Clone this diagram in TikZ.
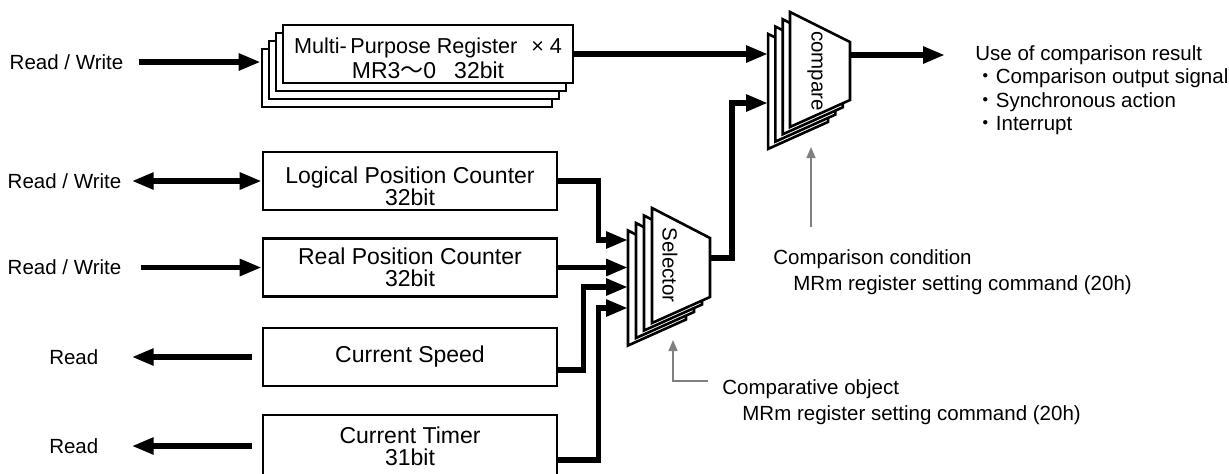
\documentclass[tikz,border=0pt]{standalone}
\usepackage{fontspec}
\setmainfont{Liberation Sans}
\newfontfamily\cjk{Noto Sans CJK JP}
\usetikzlibrary{arrows.meta,positioning}

\begin{document}
\begin{tikzpicture}[
    x=0.5pt, y=-0.5pt,
    >={Triangle[length=11pt,width=8pt]},
    bus/.style={line width=2.8pt},
    sense/.style={black!50, line width=0.7pt, -{Triangle[length=5.5pt,width=4.5pt]}},
    tag/.style={font=\fontsize{10.25}{13}\selectfont, inner sep=0pt},
    reg/.style={draw, line width=1.3pt, fill=white, inner sep=0pt,
      minimum width=147pt, minimum height=29pt, align=center,
      font=\fontsize{11.5}{11}\selectfont},
    mux/.style={draw, line width=1.3pt, fill=white, line join=miter},
  ]
  \useasboundingbox (0,0) rectangle (1229,473);

  % multi-purpose register stack
  \foreach \k in {3,2,1,0}
    \node[reg, minimum width=145pt] (mpr\k) at ({428-7*\k},{54+8*\k}) {};
  \node[tag, align=center, font=\fontsize{10.8}{12.5}\selectfont] (mprtxt) at ([yshift=-2pt]mpr0.center)
    {Multi-\,Purpose Register\hspace{7pt}× 4\\
     {\fontsize{11.5}{12.5}\selectfont MR3{\cjk 〜}0\hspace{9pt}32bit}};

  % counters
  \node[reg] (lpc) at (410,181) {};
  \node[tag, align=center, font=\fontsize{11.5}{11}\selectfont] (lpctxt) at ([yshift=-2.5pt]lpc.center)
    {Logical Position Counter\\32bit};
  \node[reg] (rpc) at (410,267.5) {Real Position Counter\\32bit};
  \node[reg] (spd) at (410,357) {Current Speed};
  \node[reg, minimum height=31pt] (tmr) at (410,446) {Current Timer\\31bit};

  % selector and compare stacks
  \foreach \k in {3,2,1,0}
    \draw[mux] ([shift={(-8*\k,7.5*\k)}]652,208) -- ++(58,30) -- ++(0,59) -- ++(-58,26) -- cycle;
  \foreach \k in {3,2,1,0}
    \draw[mux] ([shift={(-7.3*\k,7.3*\k)}]790,12) -- ++(60,30) -- ++(0,58) -- ++(-60,27) -- cycle;
  \node[tag, rotate=-90, font=\fontsize{10.25}{12}\selectfont] (seltxt) at (670,265) {Selector};
  \node[tag, rotate=-90, font=\fontsize{10.25}{12}\selectfont] (cmptxt) at (815,71) {compare};

  \coordinate (in1) at (628,240);
  \coordinate (in3) at (628,287);
  \coordinate (in4) at (628,308);
  \coordinate (selout) at (710,258);
  \coordinate (cmpin) at (768,103);
  \coordinate (cmpout) at (850,55);

  % outer labels
  \node[tag] (rw1) at (66.5,62) {Read / Write};
  \node[tag, left=70pt of lpc] (rw2) {Read / Write};
  \node[tag, left=70pt of rpc] (rw3) {Read / Write};
  \node[tag, left=81.5pt of spd] (rd1) {Read};
  \node[tag, left=81.5pt of tmr] (rd2) {Read};
  \node[tag, anchor=north west, align=left, font=\fontsize{10.25}{11.7}\selectfont] (use) at (975,45)
    {Use of comparison result\\
     {\cjk ・}Comparison output signal\\
     {\cjk ・}Synchronous action\\
     {\cjk ・}Interrupt};
  \node[tag, anchor=north west, align=left] (cond) at (773,249)
    {Comparison condition\\\hspace{10pt}MRm register setting command (20h)};
  \node[tag, anchor=north west, align=left] (obj) at (722,379)
    {Comparative object\\\hspace{10pt}MRm register setting command (20h)};

  % data paths
  \draw[bus, ->] ([xshift=7.5pt]rw1.east) -- (rw1.east -| mpr3.west);
  \draw[bus, <->] ([xshift=5pt]rw2.east) -- (lpc.west);
  \draw[bus, ->] ([xshift=9.5pt]rw3.east) -- (rpc.west);
  \draw[bus, ->] ([xshift=-5pt]spd.west) -- ([xshift=16.5pt]rd1.east);
  \draw[bus, ->] ([xshift=-5pt]tmr.west) -- ([xshift=16.5pt]rd2.east);

  \draw[bus, ->] (lpc.east) -- ++(40,0) |- (in1);
  \draw[bus, ->] (rpc.east) -- (rpc.east -| in1);
  \draw[bus, ->] ([yshift=-6.5pt]spd.east) -- ++(25,0) |- (in3);
  \draw[bus, ->] ([yshift=-7pt]tmr.east) -- ++(40,0) |- (in4);
  \draw[bus, ->] (selout) -- ++(22,0) |- (cmpin);
  \draw[bus, ->] (mpr0.east) -- (mpr0.east -| cmpin);
  \draw[bus, ->] (cmpout) -- ([xshift=-15pt]use.west |- cmpout);

  % setting commands
  \coordinate (condtip) at (811,147);
  \coordinate (objtip) at (673,340);
  \draw[sense] (condtip |- cond.north) ++(0,-22) -- (condtip);
  \draw[sense] ([shift={(-7pt,-1pt)}]obj.north west) -| (objtip);

\end{tikzpicture}
\end{document}
